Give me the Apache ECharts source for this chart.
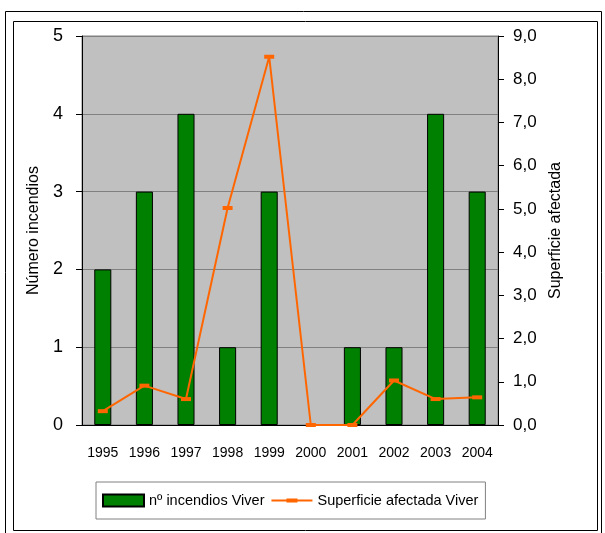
<!DOCTYPE html>
<html>
<head>
<meta charset="utf-8">
<script src="https://cdn.jsdelivr.net/npm/echarts@6/dist/echarts.min.js"></script>
<style>
  html, body { margin: 0; padding: 0; background: #fff; }
  #chart { width: 605px; height: 533px; }
</style>
</head>
<body>
<div id="chart"></div>
<script>
var years = ['1995', '1996', '1997', '1998', '1999', '2000', '2001', '2002', '2003', '2004'];
var incendios = [2, 3, 4, 1, 3, 0, 1, 1, 4, 3];
var superficie = [0.32, 0.91, 0.6, 5.02, 8.52, 0, 0, 1.03, 0.6, 0.64];

var myChart = echarts.init(document.getElementById('chart'));
var font = 'Liberation Sans, Arial, sans-serif';

// icono de la leyenda para la linea: trazo + marcador rectangular
var lineIcon = 'path://M0,0 M41,12 M0,5 h41 v2 h-41 Z M15,4 h11 v4 h-11 Z';

// las barras con valor 0 no llevan borde
var barData = incendios.map(function (v) {
    return v === 0 ? { value: v, itemStyle: { borderWidth: 0 } } : v;
});

option = {
    animation: false,
    textStyle: { fontFamily: font, color: '#000' },
    graphic: [
        {
            type: 'rect',
            shape: { x: 5.5, y: 11.5, width: 596, height: 530 },
            style: { fill: 'none', stroke: '#000', lineWidth: 1 }
        },
        {
            type: 'rect',
            shape: { x: 13.5, y: 21.5, width: 584, height: 509 },
            style: { fill: 'none', stroke: '#000', lineWidth: 1 }
        }
    ],
    grid: {
        left: 82,
        right: 107,
        top: 36,
        bottom: 108,
        show: true,
        backgroundColor: '#C0C0C0',
        borderColor: '#808080',
        borderWidth: 1
    },
    legend: {
        left: 96,
        top: 482,
        padding: [11, 7, 11, 6],
        borderColor: '#808080',
        borderWidth: 1,
        itemWidth: 41,
        itemHeight: 12,
        itemGap: 7,
        textStyle: { fontFamily: font, fontSize: 14.5, color: '#000' },
        data: [
            { name: 'nº incendios Viver', icon: 'rect' },
            { name: 'Superficie afectada Viver', icon: lineIcon }
        ]
    },
    xAxis: [
        {
            type: 'category',
            data: years,
            axisLine: { lineStyle: { color: '#000' } },
            axisTick: { length: 6, lineStyle: { color: '#000' } },
            axisLabel: { fontSize: 14, color: '#000', margin: 21 }
        }
    ],
    yAxis: [
        {
            type: 'value',
            min: 0,
            max: 5,
            interval: 1,
            name: 'Número incendios',
            nameLocation: 'middle',
            nameGap: 37,
            nameTextStyle: { fontSize: 16, color: '#000' },
            axisLine: { show: true, lineStyle: { color: '#000' } },
            axisTick: { show: true, length: 6, lineStyle: { color: '#000' } },
            axisLabel: { fontSize: 18, color: '#000', margin: 19 },
            splitLine: { lineStyle: { color: '#808080' } }
        },
        {
            type: 'value',
            min: 0,
            max: 9,
            interval: 1,
            name: 'Superficie afectada',
            nameLocation: 'middle',
            nameGap: 50,
            nameRotate: 90,
            nameTextStyle: { fontSize: 16, color: '#000' },
            axisLine: { show: true, lineStyle: { color: '#000' } },
            axisTick: { show: true, length: 6, lineStyle: { color: '#000' } },
            axisLabel: {
                fontSize: 17,
                color: '#000',
                margin: 15,
                formatter: function (v) { return v.toFixed(1).replace('.', ','); }
            },
            splitLine: { show: false }
        }
    ],
    series: [
        {
            name: 'nº incendios Viver',
            type: 'bar',
            barWidth: '41%',
            yAxisIndex: 0,
            itemStyle: { color: '#008000', borderColor: '#000', borderWidth: 1 },
            data: barData
        },
        {
            name: 'Superficie afectada Viver',
            type: 'line',
            yAxisIndex: 1,
            symbol: 'rect',
            symbolSize: [10, 4],
            showAllSymbol: true,
            lineStyle: { color: '#FF6600', width: 2 },
            itemStyle: { color: '#FF6600' },
            data: superficie
        }
    ]
};
myChart.setOption(option);
</script>
</body>
</html>
